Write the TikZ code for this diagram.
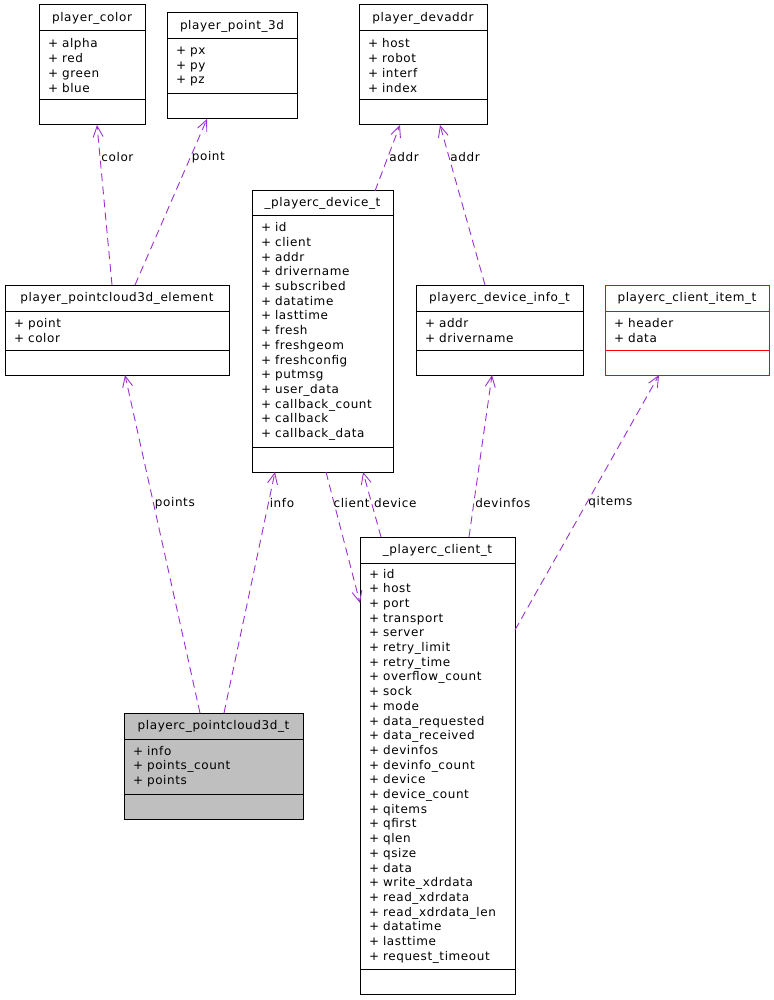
\documentclass[tikz,border=0pt]{standalone}
\usepackage{fontspec}
\setmainfont{DejaVu Sans}[LetterSpace=5]
\usetikzlibrary{arrows.meta,positioning}
\definecolor{edgecolor}{HTML}{9A32CD}
\definecolor{focuscolor}{HTML}{BFBFBF}
\definecolor{incompletecolor}{HTML}{FF0000}

\begin{document}
\begin{tikzpicture}[
    x=1pt, y=-1pt,
    font=\fontsize{12}{14.7}\selectfont,
    part/.style={rectangle, draw=black, line width=1pt, outer sep=0pt, inner xsep=9pt, inner ysep=0pt},
    classtitle/.style={part, text width=#1, align=center, minimum height=26pt, anchor=north},
    members/.style={part, text width=#1, align=left},
    methods/.style={part, text width=#1, minimum height=25pt},
    uses/.style={-{Straight Barb[length=11pt,width=10pt]}, draw=edgecolor, line width=.9pt, dash pattern=on 8pt off 5pt},
    edgelabel/.style={right, inner sep=1pt}
]
    \useasboundingbox (0,0) rectangle (773,1000);

    % top row
    \node[classtitle=88pt] (color) at (92,5) {player\_color};
    \node[members=88pt, minimum height=69pt, below=0pt of color] (color-attrs) {+ alpha\\+ red\\+ green\\+ blue};
    \node[methods=88pt, below=0pt of color-attrs] (color-ops) {};

    \node[classtitle=112pt] (pt3d) at (232,13) {player\_point\_3d};
    \node[members=112pt, minimum height=55pt, below=0pt of pt3d] (pt3d-attrs) {+ px\\+ py\\+ pz};
    \node[methods=112pt, below=0pt of pt3d-attrs] (pt3d-ops) {};

    \node[classtitle=110pt] (devaddr) at (423,5) {player\_devaddr};
    \node[members=110pt, minimum height=69pt, below=0pt of devaddr] (devaddr-attrs) {+ host\\+ robot\\+ interf\\+ index};
    \node[methods=110pt, below=0pt of devaddr-attrs] (devaddr-ops) {};

    % device
    \node[classtitle=123pt, minimum height=25pt] (device) at (322.5,191) {\_playerc\_device\_t};
    \node[members=123pt, minimum height=231pt, below=0pt of device] (device-attrs) {+ id\\+ client\\+ addr\\+ drivername\\+ subscribed\\+ datatime\\+ lasttime\\+ fresh\\+ freshgeom\\+ freshconfig\\+ putmsg\\+ user\_data\\+ callback\_count\\+ callback\\+ callback\_data};
    \node[methods=123pt, below=0pt of device-attrs] (device-ops) {};

    % middle row
    \node[classtitle=206pt] (elem) at (117,285) {player\_pointcloud3d\_element};
    \node[members=206pt, minimum height=39pt, below=0pt of elem] (elem-attrs) {+ point\\+ color};
    \node[methods=206pt, below=0pt of elem-attrs] (elem-ops) {};

    \node[classtitle=149pt] (devinfo) at (499.5,285) {playerc\_device\_info\_t};
    \node[members=149pt, minimum height=39pt, below=0pt of devinfo] (devinfo-attrs) {+ addr\\+ drivername};
    \node[methods=149pt, below=0pt of devinfo-attrs] (devinfo-ops) {};

    \node[classtitle=146pt, draw=incompletecolor] (item) at (687,285) {playerc\_client\_item\_t};
    \node[members=146pt, draw=incompletecolor, minimum height=39pt, below=0pt of item] (item-attrs) {+ header\\+ data};
    \node[methods=146pt, draw=incompletecolor, below=0pt of item-attrs] (item-ops) {};

    % bottom
    \node[classtitle=161pt, fill=focuscolor] (pc) at (213.5,713) {playerc\_pointcloud3d\_t};
    \node[members=161pt, fill=focuscolor, minimum height=55pt, below=0pt of pc] (pc-attrs) {+ info\\+ points\_count\\+ points};
    \node[methods=161pt, fill=focuscolor, below=0pt of pc-attrs] (pc-ops) {};

    \node[classtitle=137pt] (client) at (437.5,537) {\_playerc\_client\_t};
    \node[members=137pt, minimum height=406pt, below=0pt of client] (client-attrs) {+ id\\+ host\\+ port\\+ transport\\+ server\\+ retry\_limit\\+ retry\_time\\+ overflow\_count\\+ sock\\+ mode\\+ data\_requested\\+ data\_received\\+ devinfos\\+ devinfo\_count\\+ device\\+ device\_count\\+ qitems\\+ qfirst\\+ qlen\\+ qsize\\+ data\\+ write\_xdrdata\\+ read\_xdrdata\\+ read\_xdrdata\_len\\+ datatime\\+ lasttime\\+ request\_timeout};
    \node[methods=137pt, below=0pt of client-attrs] (client-ops) {};

    \draw[uses] ([xshift=-5pt]elem.north) -- node[edgelabel, pos=.8] {color} ([xshift=5pt]color-ops.south);
    \draw[uses] ([xshift=18pt]elem.north) -- node[edgelabel, pos=.77] {point} ([xshift=-25pt]pt3d-ops.south);
    \draw[uses] ([xshift=52.5pt]device.north) -- node[edgelabel, pos=.52] {addr} ([xshift=-23pt]devaddr-ops.south);
    \draw[uses] ([xshift=-14.5pt]devinfo.north) -- node[edgelabel, pos=.8] {addr} ([xshift=17pt]devaddr-ops.south);
    \draw[uses] ([xshift=-13.5pt]pc.north) -- node[edgelabel, pos=.62] {points} ([xshift=8pt]elem-ops.south);
    \draw[uses] ([xshift=10.5pt]pc.north) -- node[edgelabel, pos=.87] {info} ([xshift=-47.5pt]device-ops.south);
    \draw[uses] ([xshift=3.5pt]device-ops.south) -- node[edgelabel, pos=.24, xshift=-2pt] {client} ([yshift=163pt]client-attrs.west);
    \draw[uses] ([xshift=-56.5pt]client.north) -- node[edgelabel, pos=.52, xshift=1pt] {device} ([xshift=40.5pt]device-ops.south);
    \draw[uses] ([xshift=31.5pt]client.north) -- node[edgelabel, pos=.21] {devinfos} ([xshift=-7.5pt]devinfo-ops.south);
    \draw[uses] ([yshift=136pt]client-attrs.east) -- node[edgelabel, pos=.5] {qitems} ([xshift=-28pt]item-ops.south);

\end{tikzpicture}
\end{document}
